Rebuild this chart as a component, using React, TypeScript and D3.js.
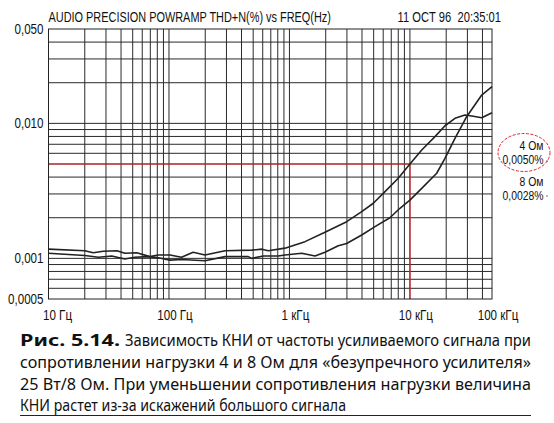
import React from 'react';
import * as d3 from 'd3';

const W = 554;
const H = 423;

const titleText = 'AUDIO PRECISION POWRAMP THD+N(%) vs FREQ(Hz)';
const stampText = '11 OCT 96  20:35:01';

const freqDomain = [10, 48000];
const freqTicks = [10, 100, 1000, 10000, 48000];
const freqTickLabels = ['10 Гц', '100 Гц', '1 кГц', '10 кГц', '100 кГц'];

const thdDomain = [0.0005, 0.05];
const thdTicks = [0.05, 0.01, 0.001, 0.0005];
const thdTickLabels = ['0,050', '0,010', '0,001', '0,0005'];

const freq4 = [10, 20, 23.5, 28.5, 37, 43, 54, 69.5, 81.5, 102, 127, 159, 199, 292, 486, 589, 667, 918, 1346, 1972, 2985, 3981, 4966, 6211, 8000, 10000, 12530, 16150, 19540, 23650, 28640, 33570, 39430, 48000];
const thd4 = [0.00117, 0.00114, 0.0011, 0.00113, 0.00114, 0.00109, 0.0011, 0.00103, 0.00106, 0.00106, 0.00102, 0.00111, 0.00106, 0.00114, 0.00115, 0.00117, 0.00114, 0.00119, 0.00133, 0.00156, 0.00187, 0.00222, 0.00256, 0.00312, 0.00392, 0.005, 0.00635, 0.00797, 0.0096, 0.0109, 0.01153, 0.0113, 0.011, 0.012];

const freq8 = [10, 20, 26, 33.5, 43, 52, 67, 81.5, 102, 127, 199, 292, 455, 486, 607, 808, 918, 1264, 1630, 1972, 2543, 2985, 3981, 5129, 6823, 8260, 10000, 12530, 16680, 19540, 23650, 29580, 39430, 48000];
const thd8 = [0.00109, 0.00105, 0.00102, 0.00104, 0.00099, 0.00102, 0.00103, 0.00101, 0.00097, 0.00098, 0.00096, 0.00103, 0.00103, 0.001, 0.00104, 0.00104, 0.00106, 0.00109, 0.00104, 0.00111, 0.00124, 0.00129, 0.00149, 0.00172, 0.002, 0.00235, 0.0027, 0.0033, 0.00427, 0.00551, 0.00775, 0.0112, 0.0162, 0.0187];

const refFreq = 10000;
const refThd = 0.005;

const annotLabels = ['4 Ом', '0,0050%', '8 Ом', '0,0028%'];

const captionBold = 'Рис. 5.14.';
const captionLines = [
  'Зависимость КНИ от частоты усиливаемого сигнала при',
  'сопротивлении нагрузки 4 и 8 Ом для «безупречного усилителя»',
  '25 Вт/8 Ом. При уменьшении сопротивления нагрузки величина',
  'КНИ растет из-за искажений большого сигнала',
];

const narrow = "'Liberation Sans', Arial, sans-serif";
const capFont = "'Noto Sans', 'Open Sans', sans-serif";
const SQ = 0.8;

function NText(props: { x: number; y: number; anchor?: string; size?: number; dy?: string; sq?: number; children: React.ReactNode }) {
  const { x, y, anchor = 'start', size = 14.5, dy, sq = SQ } = props;
  return (
    <text
      transform={`translate(${x},${y}) scale(${sq},1)`}
      textAnchor={anchor}
      dy={dy}
      fontFamily={narrow}
      fontSize={size}
      fill="#111"
      style={{ whiteSpace: 'pre' }}
    >
      {props.children}
    </text>
  );
}

export default function App() {
  const left = 48.5, right = 492, top = 29, bottom = 299;
  const x = d3.scaleLog().domain(freqDomain).range([left, right]);
  const y = d3.scaleLog().domain(thdDomain).range([bottom, top]);

  const xGrid: number[] = [];
  [10, 100, 1000, 10000].forEach((d) => {
    for (let m = 1; m <= 9; m++) {
      const v = d * m;
      if (v > freqDomain[0] && v < freqDomain[1]) xGrid.push(v);
    }
  });
  const yGrid: number[] = [];
  [0.0001, 0.001, 0.01].forEach((d) => {
    for (let m = 1; m <= 9; m++) {
      const v = +(d * m).toPrecision(3);
      if (v > thdDomain[0] * 1.0001 && v < thdDomain[1] * 0.9999) yGrid.push(v);
    }
  });

  const line = d3
    .line<[number, number]>()
    .x((d) => x(d[0]))
    .y((d) => y(d[1]));
  const d4 = line(freq4.map((f, i) => [f, thd4[i]] as [number, number])) || '';
  const d8 = line(freq8.map((f, i) => [f, thd8[i]] as [number, number])) || '';

  const gridColor = '#2a2a2a';
  const red = '#e3232b';
  const annotY = [150, 164, 186, 199.5];

  return (
    <svg width={W} height={H} style={{ position: 'absolute', left: 0, top: 0, background: '#fff' }}>
      <rect x={0} y={0} width={W} height={H} fill="#fff" />
      {/* title */}
      <NText x={left} y={22} size={14} sq={0.78}>{titleText}</NText>
      <NText x={501} y={22} size={14} sq={0.8} anchor="end">{stampText}</NText>

      {/* grid */}
      {xGrid.map((v) => (
        <line key={'x' + v} x1={x(v)} x2={x(v)} y1={top} y2={bottom} stroke={gridColor} strokeWidth={1} />
      ))}
      {yGrid.map((v) => (
        <line key={'y' + v} x1={left} x2={right} y1={y(v)} y2={y(v)} stroke={gridColor} strokeWidth={1} />
      ))}

      {/* red reference */}
      <line x1={left} x2={x(refFreq)} y1={y(refThd)} y2={y(refThd)} stroke={red} strokeWidth={1.2} />
      <line x1={x(refFreq)} x2={x(refFreq)} y1={y(refThd)} y2={bottom} stroke={red} strokeWidth={1.2} />

      {/* border */}
      <rect x={left} y={top} width={right - left} height={bottom - top} fill="none" stroke="#222" strokeWidth={1} />

      {/* curves */}
      <path d={d4} fill="none" stroke="#222" strokeWidth={1.6} strokeLinejoin="round" />
      <path d={d8} fill="none" stroke="#222" strokeWidth={1.6} strokeLinejoin="round" />

      {/* y labels */}
      {thdTicks.map((v, i) => (
        <NText key={'yl' + i} x={43.5} y={y(v)} dy="0.35em" anchor="end">
          {thdTickLabels[i]}
        </NText>
      ))}
      {/* x labels */}
      {freqTicks.map((v, i) => (
        <NText key={'xl' + i} x={x(v) + (i === 0 ? 9 : 6)} y={319.5} anchor="middle">
          {freqTickLabels[i]}
        </NText>
      ))}

      {/* annotations */}
      <ellipse cx={524} cy={152.5} rx={26} ry={19} fill="none" stroke={red} strokeWidth={1} strokeDasharray="3 1.5" />
      {annotLabels.map((t, i) => (
        <NText key={'an' + i} x={543.5} y={annotY[i]} anchor="end" size={13}>
          {t}
        </NText>
      ))}
      {[161, 196].map((yy, i) => (
        <circle key={'dot' + i} cx={547} cy={yy} r={0.7} fill="#444" />
      ))}

      {/* caption */}
      <text x={20} y={346} fontFamily={capFont} fontSize={15.5} fontWeight="bold" fill="#111" textLength={100} lengthAdjust="spacingAndGlyphs">{captionBold}</text>
      <text x={125} y={346} fontFamily={capFont} fontSize={15.5} fill="#111" textLength={406} lengthAdjust="spacingAndGlyphs">{captionLines[0]}</text>
      <text x={20} y={368} fontFamily={capFont} fontSize={15.5} fill="#111" textLength={511} lengthAdjust="spacingAndGlyphs">{captionLines[1]}</text>
      <text x={20} y={390} fontFamily={capFont} fontSize={15.5} fill="#111" textLength={511} lengthAdjust="spacingAndGlyphs">{captionLines[2]}</text>
      <text x={20} y={411} fontFamily={capFont} fontSize={15.5} fill="#111" textLength={326} lengthAdjust="spacingAndGlyphs">{captionLines[3]}</text>
      <line x1={20} x2={531} y1={415.5} y2={415.5} stroke="#222" strokeWidth={1} />
    </svg>
  );
}
